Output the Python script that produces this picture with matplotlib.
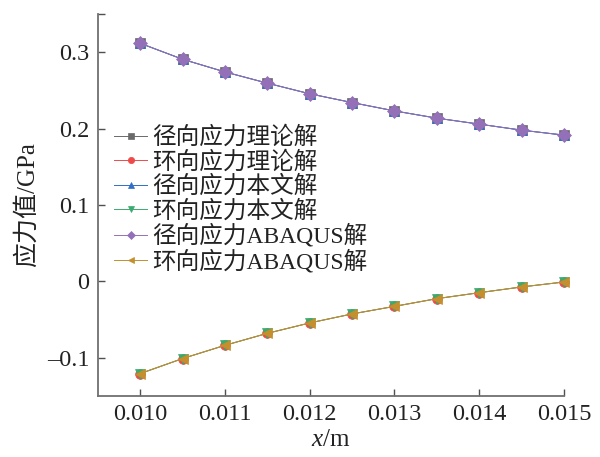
import matplotlib
matplotlib.use("Agg")
import matplotlib.pyplot as plt
from matplotlib.ticker import FixedLocator, FixedFormatter

plt.rcParams['font.family'] = ['Liberation Serif', 'Noto Sans CJK SC', 'DejaVu Sans']
plt.rcParams['mathtext.fontset'] = 'custom'
plt.rcParams['mathtext.it'] = 'Liberation Serif:italic'
plt.rcParams['mathtext.rm'] = 'Liberation Serif'

# radius positions (m)
x = [0.0100, 0.0105, 0.0110, 0.0115, 0.0120, 0.0125,
     0.0130, 0.0135, 0.0140, 0.0145, 0.0150]

# radial stress (GPa)
radial_theory = [0.3116, 0.2907, 0.2741, 0.2594, 0.2455, 0.2340,
                 0.2231, 0.2136, 0.2058, 0.1979, 0.1914]
radial_paper = [0.3116, 0.2907, 0.2741, 0.2594, 0.2455, 0.2340,
                0.2231, 0.2136, 0.2058, 0.1979, 0.1914]
radial_abaqus = [0.3116, 0.2907, 0.2741, 0.2594, 0.2455, 0.2340,
                 0.2231, 0.2136, 0.2058, 0.1979, 0.1914]

# hoop stress (GPa)
hoop_theory = [-0.1207, -0.1010, -0.0837, -0.0680, -0.0544, -0.0426,
               -0.0327, -0.0226, -0.0148, -0.0073, -0.0008]
hoop_paper = [-0.1207, -0.1010, -0.0837, -0.0680, -0.0544, -0.0426,
              -0.0327, -0.0226, -0.0148, -0.0073, -0.0008]
hoop_abaqus = [-0.1207, -0.1010, -0.0837, -0.0680, -0.0544, -0.0426,
               -0.0327, -0.0226, -0.0148, -0.0073, -0.0008]

labels = ['径向应力理论解', '环向应力理论解', '径向应力本文解',
          '环向应力本文解', '径向应力ABAQUS解', '环向应力ABAQUS解']
series = [radial_theory, hoop_theory, radial_paper,
          hoop_paper, radial_abaqus, hoop_abaqus]
colors = ['#6a6a6a', '#ee4a4a', '#2f6fc8', '#3aab6e', '#9470b8', '#c48f2c']
markers = ['s', 'o', '^', 'v', 'D', '<']

xticks = [0.010, 0.011, 0.012, 0.013, 0.014, 0.015]
xtick_labels = ['0.010', '0.011', '0.012', '0.013', '0.014', '0.015']
yticks = [-0.1, 0.0, 0.1, 0.2, 0.3, 0.35]
ytick_labels = ['\u20130.1', '0', '0.1', '0.2', '0.3', '']

fig = plt.figure(figsize=(6.0, 4.57), dpi=100)
ax = fig.add_axes([0.163, 0.1335, 0.777, 0.836])

for ys, c, m, lab in zip(series, colors, markers, labels):
    line, = ax.plot(x, ys, color=c, lw=0.7, marker=m, markersize=7,
                    markeredgewidth=0.5, markeredgecolor=c, label=lab,
                    clip_on=False)

ax.set_xlim(0.0095, 0.015)
ax.set_ylim(-0.15, 0.35)
ax.xaxis.set_major_locator(FixedLocator(xticks))
ax.xaxis.set_major_formatter(FixedFormatter(xtick_labels))
ax.yaxis.set_major_locator(FixedLocator(yticks))
ax.yaxis.set_major_formatter(FixedFormatter(ytick_labels))

for s in ['top', 'right']:
    ax.spines[s].set_visible(False)
for s in ['left', 'bottom']:
    ax.spines[s].set_color('#707070')
    ax.spines[s].set_linewidth(1.3)

ax.tick_params(direction='in', length=5, width=1.0, color='#505050',
               labelsize=17.5, labelcolor='#222222', pad=6)

ax.set_xlabel('$x$/m', fontsize=18, color='#222222', labelpad=3)
ax.set_ylabel('应力值/GPa', fontsize=18, color='#222222', labelpad=6)

leg = ax.legend(loc='upper left', bbox_to_anchor=(0.035, 0.705), frameon=False,
                fontsize=17, handlelength=1.4, handletextpad=0.2,
                labelspacing=0.08, borderpad=0, borderaxespad=0,
                markerscale=0.65)
for t in leg.get_texts():
    t.set_color('#222222')

fig.savefig('out.png', dpi=100)
